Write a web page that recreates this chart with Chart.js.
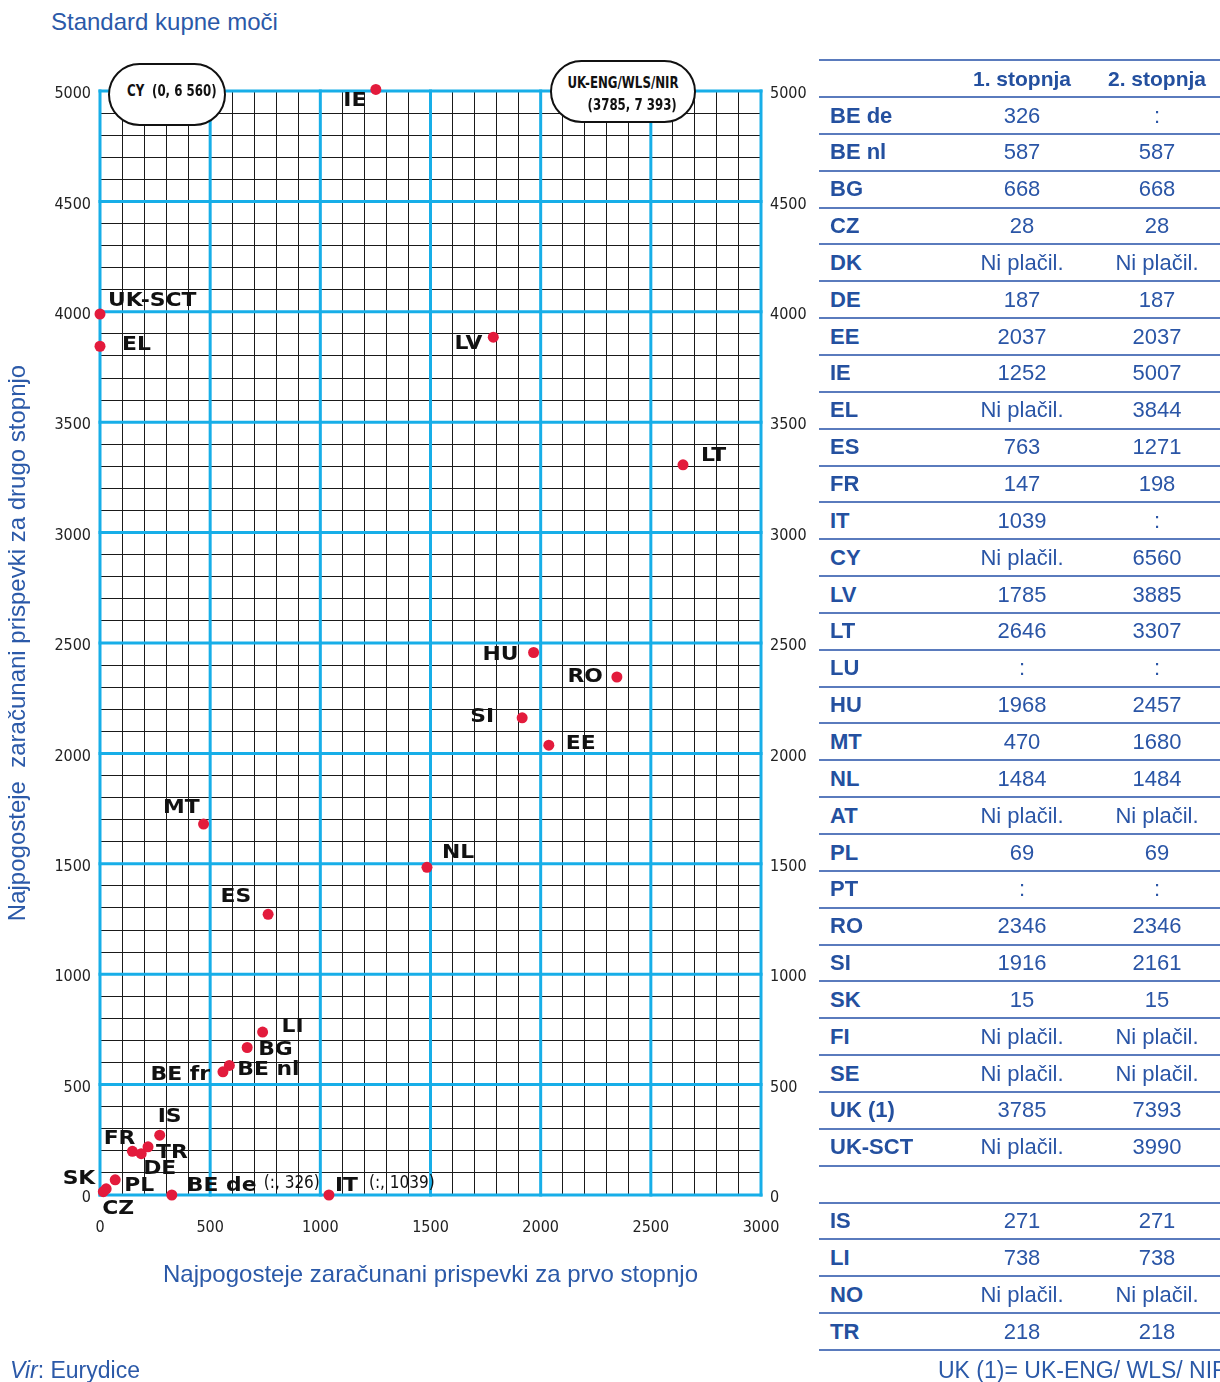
<!DOCTYPE html>
<html><head><meta charset="utf-8">
<script src="https://cdn.jsdelivr.net/npm/chart.js@4.4.1/dist/chart.umd.min.js"></script>
<style>
html,body{margin:0;padding:0;width:1220px;height:1382px;overflow:hidden;background:#fff;font-family:"Liberation Sans",Arial,sans-serif;}
#wrap{position:relative;width:1220px;height:1382px;overflow:hidden;}
#chartBox{position:absolute;left:0;top:0;width:815px;height:1382px;}
#pageTitle{position:absolute;left:51px;top:8px;font-size:24px;line-height:28px;color:#2b59a8;white-space:nowrap;}
.pill{position:absolute;background:#fff;border:2.5px solid #111;border-radius:33px;box-sizing:border-box;font-family:"Liberation Sans Narrow","DejaVu Sans Condensed","Roboto Condensed",sans-serif;font-weight:bold;font-size:16px;color:#111;white-space:nowrap;}
.pill span{position:absolute;line-height:18px;transform:scaleX(0.82);}
.pill span.l{transform-origin:left center;}
.pill span.r{transform-origin:right center;}
.tline{position:absolute;left:819px;width:401px;height:2px;background:#5a7bbd;}
.tcell{position:absolute;height:36px;line-height:36px;font-size:22px;color:#2a55a6;white-space:nowrap;}
.tcode{left:830px;font-weight:bold;color:#24509f;}
.tc1{left:950px;width:144px;text-align:center;}
.tc2{left:1094px;width:126px;text-align:center;}
.thead{font-weight:bold;color:#24509f;font-size:21px;}
.foot{position:absolute;top:1356px;font-size:23px;line-height:28px;color:#2b59a8;white-space:nowrap;}
</style>
</head><body>
<div id="wrap">
  <div id="pageTitle">Standard kupne moči</div>
  <div id="chartBox"><canvas id="c" width="815" height="1382"></canvas></div>
  <div class="pill" style="left:108px;top:63px;width:118px;height:63px;"><span class="l" style="left:16.5px;top:16.5px;">CY</span><span class="l" style="left:41.5px;top:16.5px;">(0, 6 560)</span></div>
  <div class="pill" style="left:550px;top:60px;width:146px;height:63px;"><span class="r" style="right:15.5px;top:11.5px;">UK-ENG/WLS/NIR</span><span class="r" style="right:17.5px;top:33.5px;">(3785, 7 393)</span></div>
  <div id="table"></div>
  <div class="foot" style="left:10px;"><i>Vir</i>: Eurydice</div>
  <div class="foot" style="left:938px;">UK (1)= UK-ENG/ WLS/ NIR</div>
</div>
<script>
// ---- Data ----
const pointCodes = ['IE','LV','UK-SCT','EL','LT','HU','RO','SI','EE','MT','NL','ES','LI','BG','BE nl','BE fr','IS','FR','TR','DE','SK','PL','CZ','BE de','IT'];
const pointX = [1252,1785,0,0,2646,1968,2346,1916,2037,470,1484,763,738,668,587,558,271,147,218,187,15,69,28,326,1039];
const pointY = [5007,3885,3990,3844,3307,2457,2346,2161,2037,1680,1484,1271,738,668,587,558,271,198,218,187,15,69,28,0,0];
const pointNotes = {'BE de':'(:, 326)','IT':'(:, 1039)'};

const xTickLabels = [0,500,1000,1500,2000,2500,3000];
const yTickLabels = [0,500,1000,1500,2000,2500,3000,3500,4000,4500,5000];

const tableHeader = ['', '1. stopnja', '2. stopnja'];
const tableCodes = ['BE de','BE nl','BG','CZ','DK','DE','EE','IE','EL','ES','FR','IT','CY','LV','LT','LU','HU','MT','NL','AT','PL','PT','RO','SI','SK','FI','SE','UK (1)','UK-SCT','','IS','LI','NO','TR'];
const tableStage1 = ['326','587','668','28','Ni plačil.','187','2037','1252','Ni plačil.','763','147','1039','Ni plačil.','1785','2646',':','1968','470','1484','Ni plačil.','69',':','2346','1916','15','Ni plačil.','Ni plačil.','3785','Ni plačil.','','271','738','Ni plačil.','218'];
const tableStage2 = [':','587','668','28','Ni plačil.','187','2037','5007','3844','1271','198',':','6560','3885','3307',':','2457','1680','1484','Ni plačil.','69',':','2346','2161','15','Ni plačil.','Ni plačil.','7393','3990','','271','738','Ni plačil.','218'];

// ---- Label placement (style only) ----
const labelLayout = {
  'IE':['center',-21,12],'LV':['right',-11,7],'UK-SCT':['left',8,-13],'EL':['left',22,-1],
  'LT':['left',18,-9],'HU':['right',-15,3],'RO':['right',-14,0],'SI':['right',-28,-1],
  'EE':['left',17,-1],'MT':['right',-4,-16],'NL':['left',15,-14],'ES':['right',-17,-17],
  'LI':['left',19,-5],'BG':['left',11,3],'BE nl':['left',8,5],'BE fr':['right',-13,3],
  'IS':['left',-2,-18],'FR':['right',3,-12],'TR':['left',8,6],'DE':['left',2,15],
  'SK':['right',-8,-13],'PL':['left',9,6],'CZ':['left',-4,20],'BE de':['left',15,-9],'IT':['left',6,-9]
};
const noteOffsets = {'BE de':[92,-11],'IT':[40,-11]};

// ---- Table ----
(function buildTable(){
  const t = document.getElementById('table');
  const rowH = 36.85, headTop = 60, firstTop = 97;
  function line(y){ const d=document.createElement('div'); d.className='tline'; d.style.top=(y-1)+'px'; t.appendChild(d); }
  function cell(cls, txt, top){ const d=document.createElement('div'); d.className='tcell '+cls; d.textContent=txt; d.style.top=(top+0.5)+'px'; t.appendChild(d); }
  line(headTop); line(firstTop);
  cell('tc1 thead', tableHeader[1], headTop); cell('tc2 thead', tableHeader[2], headTop);
  for(let i=0;i<tableCodes.length;i++){
    const top = firstTop + i*rowH;
    cell('tcode', tableCodes[i], top);
    cell('tc1', tableStage1[i], top);
    cell('tc2', tableStage2[i], top);
    line(firstTop + (i+1)*rowH);
  }
})();

// ---- Chart ----
const CYAN = '#17aee8';
const condensed = '"Liberation Sans Narrow","DejaVu Sans Condensed","Roboto Condensed",sans-serif';

const majorGrid = {
  id:'majorGrid',
  beforeDatasetsDraw(chart){
    const {ctx, chartArea:a, scales:{x,y}} = chart;
    ctx.save(); ctx.strokeStyle = CYAN; ctx.lineWidth = 3; ctx.lineCap='square';
    xTickLabels.forEach(v=>{ const px=x.getPixelForValue(v); ctx.beginPath(); ctx.moveTo(px,a.top); ctx.lineTo(px,a.bottom); ctx.stroke(); });
    yTickLabels.forEach(v=>{ const py=y.getPixelForValue(v); ctx.beginPath(); ctx.moveTo(a.left,py); ctx.lineTo(a.right,py); ctx.stroke(); });
    ctx.restore();
  }
};
const pointLabels = {
  id:'pointLabels',
  afterDatasetsDraw(chart){
    const ctx = chart.ctx; const meta = chart.getDatasetMeta(0);
    const sx = 1.15;
    meta.data.forEach((el,i)=>{
      const code = pointCodes[i]; const lay = labelLayout[code];
      ctx.save(); ctx.fillStyle='#111'; ctx.textBaseline='middle';
      ctx.font = 'bold 19px "DejaVu Sans", Verdana, sans-serif';
      ctx.textAlign = lay[0];
      ctx.translate(el.x + lay[1], el.y + lay[2]);
      ctx.scale(sx, 1);
      ctx.fillText(code, 0, 0);
      ctx.restore();
      if (pointNotes[code]) {
        const o = noteOffsets[code];
        ctx.save(); ctx.fillStyle='#111'; ctx.textBaseline='middle';
        ctx.font = '17px ' + condensed; ctx.textAlign='left';
        ctx.fillText(pointNotes[code], el.x + o[0], el.y + o[1]);
        ctx.restore();
      }
    });
  }
};

const tickCb = v => (v % 500 === 0 ? String(v) : '');
const tickFont = {family: condensed, size: 16};
const titleFont = {family:'"Liberation Sans",Arial,sans-serif', size:24};

new Chart(document.getElementById('c'), {
  type: 'scatter',
  data: { datasets: [{
    data: pointX.map((x,i)=>({x:x, y:pointY[i]})),
    backgroundColor:'#e31b3c', borderWidth:0, pointRadius:5.5, pointHoverRadius:5.5, clip:false
  }]},
  options: {
    responsive:false, animation:false,
    layout:{padding:{top:91,left:0,right:0,bottom:77}},
    plugins:{legend:{display:false}, tooltip:{enabled:false}},
    events:[],
    scales:{
      x:{ type:'linear', position:'bottom', min:0, max:3000,
        afterFit(s){ s.height = 110; },
        ticks:{stepSize:100, autoSkip:false, maxRotation:0, callback:tickCb, font:tickFont, color:'#222', padding:23},
        grid:{color:'#1a1a1a', lineWidth:1, drawTicks:false},
        border:{display:false},
        title:{display:true, text:'Najpogosteje zaračunani prispevki za prvo stopnjo', color:'#2b59a8', font:titleFont, padding:{top:0,bottom:15}}
      },
      y:{ type:'linear', position:'left', min:0, max:5000,
        afterFit(s){ s.width = 100; },
        ticks:{stepSize:100, autoSkip:false, callback:tickCb, font:tickFont, color:'#222', padding:9, labelOffset:3},
        grid:{color:'#1a1a1a', lineWidth:1, drawTicks:false},
        border:{display:false},
        title:{display:true, text:'Najpogosteje  zaračunani prispevki za drugo stopnjo', color:'#2b59a8', font:titleFont, padding:{top:4,bottom:0}}
      },
      y2:{ type:'linear', position:'right', min:0, max:5000,
        afterFit(s){ s.width = 54; },
        ticks:{stepSize:100, autoSkip:false, callback:tickCb, font:tickFont, color:'#222', padding:9, labelOffset:3},
        grid:{display:false, drawTicks:false},
        border:{display:false}
      }
    }
  },
  plugins:[majorGrid, pointLabels]
});
</script>
</body></html>
